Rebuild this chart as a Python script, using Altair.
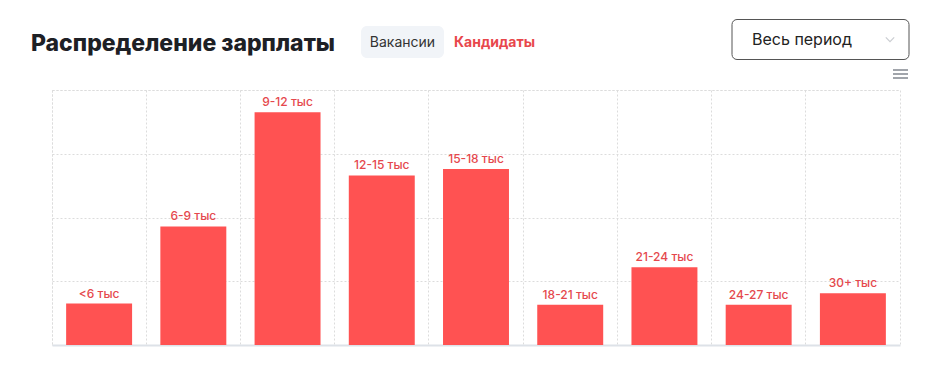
import altair as alt
import pandas as pd

categories = ["<6 тыс", "6-9 тыс", "9-12 тыс", "12-15 тыс", "15-18 тыс",
              "18-21 тыс", "21-24 тыс", "24-27 тыс", "30+ тыс"]
values = [6.5, 18.6, 36.5, 26.6, 27.6, 6.3, 12.2, 6.3, 8.1]
grid_ticks = [0, 10, 20, 30, 40]

title_text = "Распределение зарплаты"
tab_inactive = "Вакансии"
tab_active = "Кандидаты"
period_text = "Весь период"

df = pd.DataFrame({"cat": categories, "value": values})

FONT = "Inter"
BAR = "#ff5252"
LABEL = "#e5484d"
GRID = "#dcdcdc"
DASH = [2, 2]

x_enc = alt.X(
    "cat:N", sort=categories,
    scale=alt.Scale(paddingInner=0, paddingOuter=0),
    axis=alt.Axis(title=None, labels=False, ticks=False, domain=True,
                  domainColor="#dde2e8", domainWidth=2, grid=True,
                  gridColor=GRID, gridDash=DASH, bandPosition=0),
)
y_enc = alt.Y(
    "value:Q", scale=alt.Scale(domain=[0, 40], nice=False),
    axis=alt.Axis(title=None, labels=False, ticks=False, domain=False,
                  values=grid_ticks, grid=True, gridColor=GRID, gridDash=DASH),
)

bars = alt.Chart(df).mark_bar(color=BAR, width=alt.RelativeBandSize(0.7)).encode(
    x=x_enc, y=y_enc
)
labels = alt.Chart(df).mark_text(
    dy=-6, baseline="alphabetic", align="center", font=FONT, fontSize=12,
    fontWeight=500, color=LABEL
).encode(x=alt.X("cat:N", sort=categories), y=alt.Y("value:Q"), text="cat:N")

one = alt.Data(values=[{}])


def txt(xv, yv, s, **kw):
    return alt.Chart(one).mark_text(font=FONT, baseline="alphabetic", **kw).encode(
        x=alt.value(xv), y=alt.value(yv), text=alt.value(s)
    )


title = txt(-21, -39, title_text, align="left", fontSize=23, fontWeight=800, color="#1d2025")
tab_box = alt.Chart(one).mark_rect(fill="#f1f4f8", cornerRadius=6).encode(
    x=alt.value(309), x2=alt.value(392), y=alt.value(-64), y2=alt.value(-32)
)
tab1 = txt(350.5, -43, tab_inactive, align="center", fontSize=14, fontWeight=400, color="#333333")
tab2 = txt(402, -43, tab_active, align="left", fontSize=14, fontWeight=700, color="#e8474b")
drop_box = alt.Chart(one).mark_rect(fill="white", stroke="#555555", strokeWidth=1,
                                    cornerRadius=5).encode(
    x=alt.value(680), x2=alt.value(857), y=alt.value(-70.5), y2=alt.value(-30.5)
)
drop_text = txt(700, -45, period_text, align="left", fontSize=16, fontWeight=400, color="#222222")
chevron = alt.Chart(one).mark_point(
    shape="M-1,-0.5L0,0.5L1,-0.5", filled=False, stroke="#b5b9bf", strokeWidth=1.2, size=70
).encode(x=alt.value(838), y=alt.value(-50.5))
menu = [
    alt.Chart(one).mark_rule(color="#8a8f96", strokeWidth=1.6).encode(
        x=alt.value(841), x2=alt.value(856), y=alt.value(yy)
    )
    for yy in (-20, -16, -12)
]

chart = alt.layer(
    bars, labels, title, tab_box, tab1, tab2, drop_box, drop_text, chevron, *menu
).properties(
    width=848, height=255,
    padding={"left": 52, "top": 90, "right": 37, "bottom": 31},
    autosize=alt.AutoSizeParams(type="none"),
    background="white",
).configure_view(stroke=GRID, strokeDash=DASH)

chart.save("out.html", embed_options={"renderer": "svg", "actions": False})
